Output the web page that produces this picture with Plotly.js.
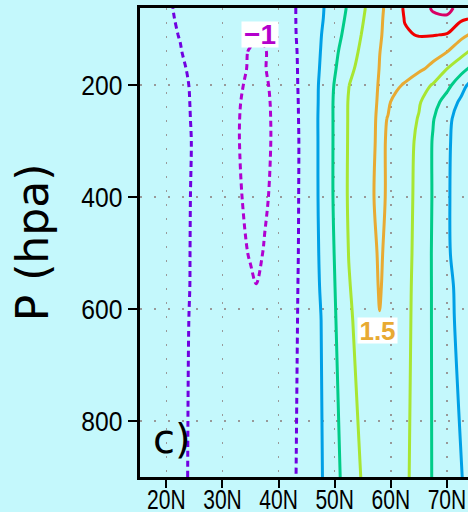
<!DOCTYPE html>
<html><head><meta charset="utf-8">
<script src="https://cdn.plot.ly/plotly-3.0.1.min.js"></script>
<style>html,body{margin:0;padding:0;background:#c4f8fc;overflow:hidden}</style>
</head><body><div id="chart" style="width:468px;height:512px"></div>
<script>
// grid: latitude (deg N) columns, pressure (hPa) rows
const lats = [15, 20, 22.5, 25, 30, 32.5, 35, 36, 37.5, 40, 42.5, 45, 47.5, 50, 52.5, 55, 56.5, 58, 59.5, 61, 62.5, 65, 67.5, 70, 72.5, 75];
const pressures = [62, 80, 110, 140, 170, 200, 230, 260, 300, 400, 500, 560, 620, 900];

const z_p62  = [-0.35, -0.47, -0.535, -0.60, -0.74, -0.81, -0.87, -0.89, -0.82, -0.68, -0.55, -0.33, -0.07, 0.23, 0.56, 0.93, 1.16, 1.39, 1.62, 1.85, 2.05, 2.28, 2.55, 2.70, 2.25, 2.10];
const z_p80  = [-0.35, -0.46, -0.53, -0.60, -0.75, -0.82, -0.89, -0.92, -0.84, -0.69, -0.55, -0.33, -0.06, 0.26, 0.60, 0.97, 1.20, 1.42, 1.63, 1.83, 2.02, 2.23, 2.42, 2.40, 2.09, 1.96];
const z_p110 = [-0.35, -0.45, -0.51, -0.594, -0.76, -0.84, -0.95, -0.97, -0.94, -0.73, -0.56, -0.32, -0.02, 0.32, 0.68, 1.04, 1.25, 1.46, 1.61, 1.74, 1.96, 2.02, 2.02, 1.97, 1.63, 1.38];
const z_p140 = [-0.35, -0.445, -0.49, -0.587, -0.79, -0.92, -1.02, -1.06, -1.03, -0.80, -0.585, -0.314, 0.006, 0.405, 0.77, 1.115, 1.31, 1.495, 1.59, 1.67, 1.76, 1.79, 1.65, 1.51, 1.17, 0.85];
const z_p170 = [-0.35, -0.44, -0.48, -0.53, -0.80, -0.91, -1.035, -1.10, -1.022, -0.82, -0.60, -0.31, 0.03, 0.46, 0.87, 1.19, 1.355, 1.51, 1.61, 1.70, 1.645, 1.58, 1.40, 1.01, 0.67, 0.33];
const z_p200 = [-0.33, -0.42, -0.47, -0.52, -0.80, -0.93, -1.075, -1.15, -1.06, -0.85, -0.61, -0.31, 0.06, 0.53, 0.99, 1.25, 1.40, 1.527, 1.60, 1.545, 1.47, 1.22, 0.96, 0.64, 0.20, -0.28];
const z_p230 = [-0.32, -0.42, -0.47, -0.515, -0.81, -0.95, -1.115, -1.20, -1.09, -0.86, -0.62, -0.32, 0.07, 0.56, 1.03, 1.27, 1.42, 1.54, 1.534, 1.42, 1.28, 1.05, 0.69, 0.30, -0.09, -0.44];
const z_p260 = [-0.32, -0.417, -0.465, -0.514, -0.82, -0.96, -1.14, -1.22, -1.10, -0.87, -0.63, -0.32, 0.08, 0.56, 1.035, 1.28, 1.43, 1.56, 1.49, 1.36, 1.22, 0.97, 0.53, 0.14, -0.24, -0.45];
const z_p300 = [-0.32, -0.415, -0.465, -0.51, -0.82, -0.96, -1.15, -1.23, -1.10, -0.875, -0.635, -0.33, 0.08, 0.56, 1.04, 1.29, 1.44, 1.565, 1.47, 1.33, 1.19, 0.90, 0.47, 0.10, -0.28, -0.45];
const z_p400 = [-0.32, -0.417, -0.465, -0.514, -0.80, -0.93, -1.107, -1.20, -1.06, -0.84, -0.62, -0.34, 0.08, 0.56, 1.05, 1.30, 1.46, 1.58, 1.46, 1.31, 1.17, 0.87, 0.47, 0.08, -0.30, -0.45];
const z_p500 = [-0.32, -0.42, -0.465, -0.516, -0.78, -0.90, -1.025, -1.10, -0.97, -0.79, -0.61, -0.34, 0.055, 0.52, 1.01, 1.26, 1.41, 1.54, 1.43, 1.29, 1.15, 0.855, 0.455, 0.09, -0.28, -0.45];
const z_p560 = [-0.32, -0.42, -0.465, -0.517, -0.74, -0.85, -0.95, -0.99, -0.93, -0.745, -0.59, -0.35, 0.03, 0.49, 0.97, 1.23, 1.38, 1.525, 1.405, 1.27, 1.135, 0.84, 0.46, 0.15, -0.17, -0.42];
const z_p620 = [-0.32, -0.42, -0.47, -0.52, -0.70, -0.78, -0.867, -0.90, -0.825, -0.70, -0.575, -0.36, -0.014, 0.46, 0.92, 1.20, 1.34, 1.49, 1.37, 1.245, 1.12, 0.84, 0.46, 0.16, -0.14, -0.40];
const z_p900 = [-0.32, -0.42, -0.47, -0.528, -0.627, -0.68, -0.73, -0.75, -0.70, -0.62, -0.545, -0.36, -0.05, 0.35, 0.735, 1.045, 1.14, 1.24, 1.27, 1.175, 1.08, 0.82, 0.47, 0.245, 0.02, -0.21];

const levels = [-1, -0.5, 0, 0.5, 1, 1.5, 2, 2.5];
const xTickVals = [20, 30, 40, 50, 60, 70];
const xTickText = ['20N', '30N', '40N', '50N', '60N', '70N'];
const yTickVals = [200, 400, 600, 800];
const yTickText = ['200', '400', '600', '800'];

// styles
const levelColors = ['#b000d0', '#7000e0', '#00a0e6', '#00cc88', '#a8e632', '#e8aa32', '#f00000', '#d80064'];
const levelDash = ['6px,4px', '6px,4px', 'solid', 'solid', 'solid', 'solid', 'solid', 'solid'];

const zGrid = [z_p62, z_p80, z_p110, z_p140, z_p170, z_p200, z_p230, z_p260, z_p300, z_p400, z_p500, z_p560, z_p620, z_p900];

const traces = levels.map((lv, i) => ({
  type: 'contour',
  x: lats, y: pressures, z: zGrid,
  autocontour: false,
  contours: {start: lv, end: lv, size: 0.5, coloring: 'none', showlabels: false},
  line: {color: levelColors[i], width: 3, dash: levelDash[i], smoothing: 1},
  showscale: false, hoverinfo: 'skip'
}));

const bg = '#c4f8fc';
const labelFamily = 'Liberation Sans, Arial, sans-serif';

const layout = {
  width: 468, height: 512,
  margin: {l: 140, r: 0, t: 8, b: 35, pad: 0},
  paper_bgcolor: bg, plot_bgcolor: bg,
  showlegend: false, hovermode: false,
  xaxis: {
    range: [15.3, 73.75], tickmode: 'array', tickvals: xTickVals, ticktext: xTickText,
    ticks: 'outside', ticklen: 8, tickwidth: 2, tickcolor: '#000', ticklabelstandoff: -11,
    ticklabeloverflow: 'allow',
    showline: true, linewidth: 3, linecolor: '#000', mirror: true,
    showgrid: true, gridcolor: '#999999', gridwidth: 1.5, griddash: '2px,12px',
    zeroline: false, tickfont: {family: labelFamily, size: 27, color: '#000'}
  },
  yaxis: {
    range: [900, 62], tickmode: 'array', tickvals: yTickVals, ticktext: yTickText,
    ticks: 'outside', ticklen: 9, tickwidth: 2, tickcolor: '#000',
    showline: true, linewidth: 3, linecolor: '#000', mirror: false,
    showgrid: true, gridcolor: '#999999', gridwidth: 1.5, griddash: '2px,12px',
    zeroline: false, tickfont: {family: labelFamily, size: 28, color: '#000'},
    title: {text: 'P (hpa)', font: {family: 'DejaVu Sans, sans-serif', size: 44, color: '#000'}, standoff: 14}
  },
  annotations: [
    {x: 36.7, y: 110, xref: 'x', yref: 'y', text: '<b>\u22121</b>', showarrow: false,
     font: {family: labelFamily, size: 28, color: '#b400cc'},
     bgcolor: '#ffffff', borderpad: 0, width: 36, height: 25},
    {x: 57.66, y: 638, xref: 'x', yref: 'y', text: '<b>1.5</b>', showarrow: false,
     font: {family: labelFamily, size: 26, color: '#e8aa32'},
     bgcolor: '#ffffff', borderpad: 0, width: 39, height: 25},
    {x: 0.033, y: 0.081, xref: 'paper', yref: 'paper', xanchor: 'left', yanchor: 'middle',
     text: 'c)', showarrow: false,
     font: {family: 'DejaVu Sans, sans-serif', size: 40, color: '#000'}}
  ]
};

// squeeze a tick label horizontally, keeping its anchor point where Plotly put it
function squeeze(t, k, keepRight) {
  const b0 = t.getBBox();
  t.setAttribute('textLength', (t.getComputedTextLength() * k).toFixed(1));
  t.setAttribute('lengthAdjust', 'spacingAndGlyphs');
  const b1 = t.getBBox();
  const shift = keepRight ? (b0.x + b0.width) - (b1.x + b1.width)
                          : (b0.x + b0.width / 2) - (b1.x + b1.width / 2);
  t.setAttribute('dx', shift.toFixed(1));
}

Plotly.newPlot('chart', traces, layout, {displayModeBar: false, staticPlot: true}).then(gd => {
  gd.querySelectorAll('.xtick text').forEach(t => squeeze(t, 0.78, false));
  gd.querySelectorAll('.ytick text').forEach(t => squeeze(t, 0.88, true));
});
</script></body></html>
